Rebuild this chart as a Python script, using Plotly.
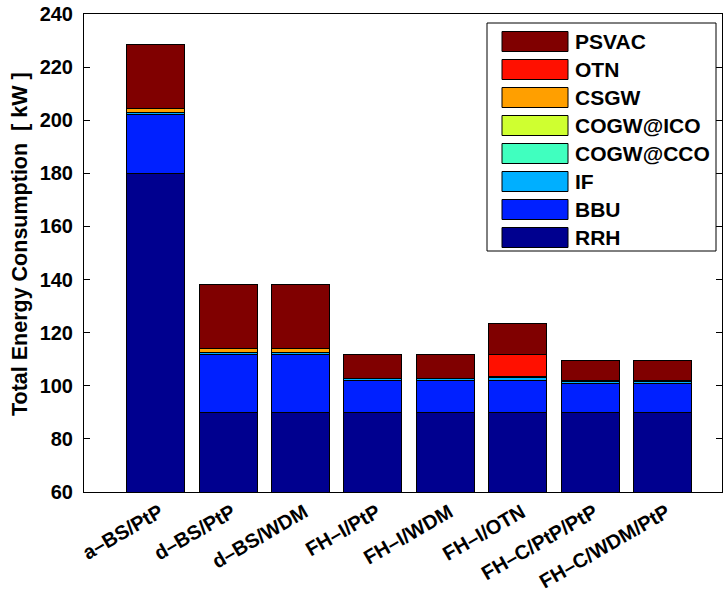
import plotly.graph_objects as go

# Deployment scenarios on the x axis
scenarios = ["a–BS/PtP", "d–BS/PtP", "d–BS/WDM", "FH–I/PtP",
             "FH–I/WDM", "FH–I/OTN", "FH–C/PtP/PtP", "FH–C/WDM/PtP"]

# Power contribution of each component [kW], bottom to top of the stack
RRH      = [180.0, 90.0, 90.0, 90.0, 90.0, 90.0, 90.0, 90.0]
BBU      = [22.0, 21.6, 21.6, 12.0, 12.0, 12.0, 11.0, 11.0]
IF       = [1.0, 1.0, 1.0, 0.6, 0.6, 1.2, 0.6, 0.6]
COGW_CCO = [0.0, 0.0, 0.0, 0.0, 0.0, 0.0, 0.4, 0.4]
COGW_ICO = [0.0, 0.0, 0.0, 0.2, 0.2, 0.2, 0.0, 0.0]
CSGW     = [1.6, 1.6, 1.6, 0.0, 0.0, 0.0, 0.0, 0.0]
OTN      = [0.0, 0.0, 0.0, 0.0, 0.0, 8.2, 0.0, 0.0]
PSVAC    = [24.0, 23.8, 23.8, 9.0, 9.0, 11.8, 7.6, 7.6]

series_names = ["RRH", "BBU", "IF", "COGW@CCO", "COGW@ICO", "CSGW", "OTN", "PSVAC"]
series_values = [RRH, BBU, IF, COGW_CCO, COGW_ICO, CSGW, OTN, PSVAC]
series_colors = ["#00008F", "#0020FF", "#00AFFF", "#40FFBF",
                 "#CFFF30", "#FF9F00", "#FF1000", "#800000"]

y_ticks = [60, 80, 100, 120, 140, 160, 180, 200, 220, 240]

FONT = "Liberation Sans, Arial, Helvetica, sans-serif"
W, H = 727, 594
L, R, T, B = 84, 722, 14, 492  # plot area in pixels


def px_x(px):
    return (px - L) / (R - L)


def px_y(py):
    return (B - py) / (B - T)


def bold(size):
    return dict(family=FONT, size=size, color="black", weight="bold")


fig = go.Figure()
for name, vals, col in zip(series_names, series_values, series_colors):
    fig.add_trace(go.Bar(
        x=scenarios, y=vals, name=name, width=0.8,
        marker=dict(color=col, line=dict(color="black", width=1)),
        showlegend=False,
    ))

# Boxed legend with large swatches, top entry = top of the stack
shapes = []
annotations = []
shapes.append(dict(type="rect", xref="paper", yref="paper",
                   x0=px_x(487), x1=px_x(716), y0=px_y(251), y1=px_y(23),
                   line=dict(color="black", width=1), fillcolor="white", layer="above"))
for i, (name, col) in enumerate(zip(series_names[::-1], series_colors[::-1])):
    cy = 41.5 + 28 * i
    shapes.append(dict(type="rect", xref="paper", yref="paper",
                       x0=px_x(502), x1=px_x(568), y0=px_y(cy + 10), y1=px_y(cy - 10),
                       line=dict(color="black", width=1), fillcolor=col, layer="above"))
    annotations.append(dict(xref="paper", yref="paper", x=px_x(573), y=px_y(cy),
                            text=name, showarrow=False, xanchor="left", yanchor="middle",
                            font=bold(21)))

# Y axis title
annotations.append(dict(xref="paper", yref="paper", x=px_x(20), y=px_y(244),
                        text="Total Energy Consumption  [ kW ]", textangle=-90,
                        showarrow=False, xanchor="center", yanchor="middle",
                        font=bold(21.5)))

fig.update_layout(
    barmode="stack",
    width=W, height=H,
    margin=dict(l=L, r=W - R, t=T, b=H - B, pad=0, autoexpand=False),
    paper_bgcolor="white", plot_bgcolor="white",
    font=bold(20),
    shapes=shapes, annotations=annotations,
    showlegend=False,
    bargap=0.2,
)
fig.update_xaxes(
    range=[-0.99, 7.82], tickangle=-30, automargin=False,
    showline=True, linecolor="black", linewidth=1, mirror=True,
    ticks="", showgrid=False,
    tickfont=bold(20),
    ticklabelshift=4,
)
fig.update_yaxes(
    range=[60, 240], tickvals=y_ticks, automargin=False,
    showline=True, linecolor="black", linewidth=1, mirror="ticks",
    ticks="inside", ticklen=6, tickcolor="black", showgrid=False, zeroline=False,
    tickfont=bold(20),
    ticklabelstandoff=6,
)

fig.write_html("out.html")
